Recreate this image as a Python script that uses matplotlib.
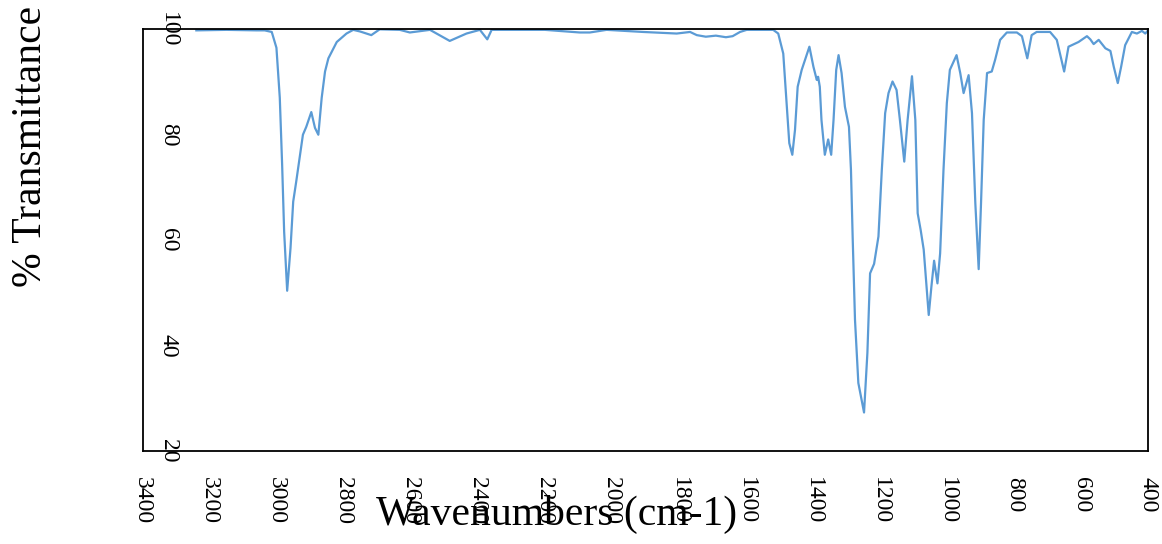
import matplotlib.pyplot as plt

# wavenumbers (cm-1) and % transmittance
wavenumber = [3240, 3150, 3060, 3036, 3015, 3001, 2991, 2984, 2978, 2969, 2959, 2951,
              2942, 2932, 2922, 2912, 2897, 2886, 2876, 2866, 2856, 2846, 2821, 2792,
              2772, 2752, 2718, 2693, 2633, 2603, 2543, 2484, 2434, 2394, 2372, 2359,
              2200, 2096, 2066, 2016, 1907, 1807, 1767, 1747, 1720, 1690, 1660, 1640,
              1618, 1598, 1519, 1504, 1489, 1479, 1471, 1462, 1454, 1446, 1434, 1411,
              1399, 1389, 1385, 1380, 1375, 1365, 1355, 1346, 1339, 1331, 1324, 1315,
              1305, 1293, 1287, 1282, 1275, 1265, 1248, 1238, 1230, 1218, 1205, 1195,
              1185, 1175, 1163, 1151, 1141, 1128, 1118, 1105, 1095, 1088, 1079, 1070,
              1055, 1047, 1039, 1029, 1021, 1011, 1001, 992, 972, 961, 951, 936,
              926, 916, 906, 899, 891, 881, 867, 857, 842, 822, 792, 777,
              761, 748, 733, 693, 673, 651, 638, 608, 583, 573, 563, 548,
              528, 513, 503, 491, 481, 469, 449, 434, 419, 409, 402]
transmittance = [99.8, 99.9, 99.8, 99.8, 99.5, 96.5, 87.0, 74.3, 61.6, 50.4, 58.5, 67.3,
                 71.1, 75.6, 80.0, 81.5, 84.3, 81.3, 80.0, 87.0, 92.0, 94.5, 97.6, 99.2,
                 99.9, 99.6, 98.9, 100.0, 99.9, 99.4, 99.9, 97.8, 99.2, 99.9, 98.1, 99.9,
                 99.9, 99.4, 99.4, 99.9, 99.5, 99.2, 99.5, 98.9, 98.6, 98.8, 98.5, 98.7,
                 99.5, 99.9, 99.9, 99.2, 95.4, 86.0, 78.4, 76.2, 80.9, 89.1, 92.3, 96.7,
                 92.9, 90.4, 91.0, 89.1, 82.8, 76.2, 79.1, 76.2, 82.8, 92.3, 95.1, 91.7,
                 85.3, 81.5, 73.3, 60.7, 44.9, 32.9, 27.3, 38.6, 53.7, 55.5, 60.7, 73.3,
                 84.1, 87.9, 90.1, 88.5, 82.8, 74.9, 82.8, 91.1, 82.8, 65.1, 61.9, 58.2,
                 45.8, 51.2, 56.1, 51.8, 57.5, 73.3, 86.0, 92.3, 95.1, 91.7, 87.9, 91.3,
                 84.1, 67.0, 54.5, 67.0, 82.8, 91.7, 92.0, 94.2, 98.0, 99.4, 99.4, 98.7,
                 94.5, 98.9, 99.5, 99.5, 98.0, 92.0, 96.7, 97.6, 98.7, 98.1, 97.2, 98.0,
                 96.4, 95.9, 92.9, 89.8, 92.9, 97.0, 99.5, 99.2, 99.7, 99.2, 99.7]

x_ticks = list(range(3400, 399, -200))
y_ticks = [20, 40, 60, 80, 100]

plt.rcParams['font.family'] = ['Liberation Serif', 'DejaVu Serif']

fig = plt.figure(figsize=(11.62, 5.44), dpi=100)
ax = fig.add_axes([0.1228, 0.1710, 0.8654, 0.7751])

ax.plot(wavenumber, transmittance, color='#5B9BD5', linewidth=1.6)

ax.set_xlim(3400, 400)
ax.set_ylim(20, 100)
ax.set_xticks(x_ticks)
ax.set_yticks(y_ticks)
ax.tick_params(axis='both', length=0, labelsize=17)
ax.tick_params(axis='x', pad=19)
ax.tick_params(axis='y', pad=-18.5)
for lbl in ax.get_xticklabels():
    lbl.set_rotation(-90)
    lbl.set_va('top')
    lbl.set_ha('center')
for lbl in ax.get_yticklabels():
    lbl.set_rotation(-90)
    lbl.set_ha('center')
    lbl.set_va('center')

for s in ax.spines.values():
    s.set_linewidth(1.3)
    s.set_color('black')

ax.set_xlabel('Wavenumbers (cm-1)', fontsize=30)
ax.xaxis.set_label_coords(0.412, -0.105)
ax.set_ylabel('% Transmittance', fontsize=30)
ax.yaxis.set_label_coords(-0.092, 0.723)

fig.savefig('out.png', dpi=100)
